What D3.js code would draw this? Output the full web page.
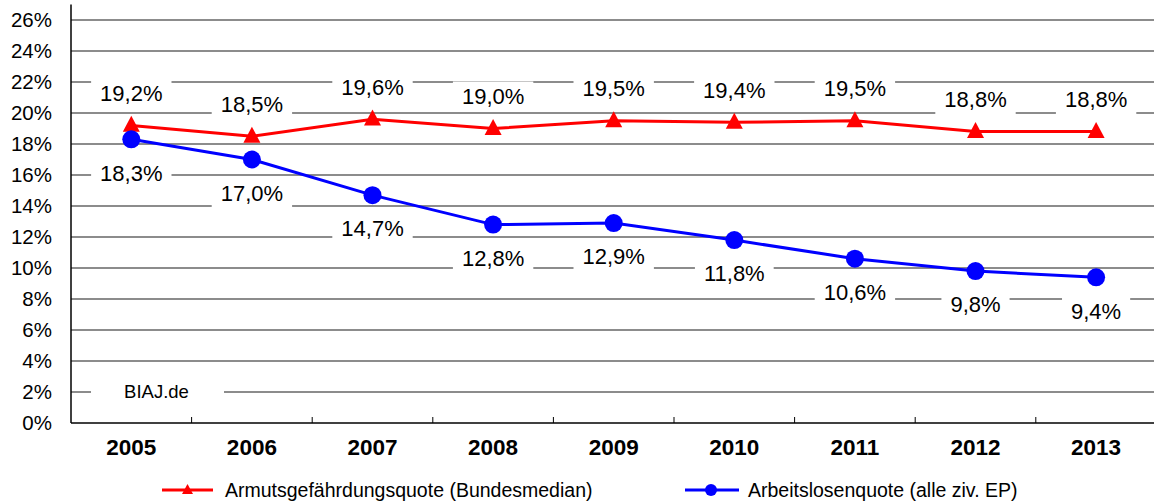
<!DOCTYPE html>
<html>
<head>
<meta charset="utf-8">
<script src="https://cdn.jsdelivr.net/npm/d3@7"></script>
<style>
  html, body { margin: 0; padding: 0; background: #fff; }
  svg { display: block; font-family: "Liberation Sans", Arial, sans-serif; }
</style>
</head>
<body>
<svg id="chart" width="1154" height="503"></svg>
<script>
// Jahre (Kategorien)
const years = ["2005", "2006", "2007", "2008", "2009", "2010", "2011", "2012", "2013"];
// Armutsgefährdungsquote (Bundesmedian), in %
const armutsquote = [19.2, 18.5, 19.6, 19.0, 19.5, 19.4, 19.5, 18.8, 18.8];
// Arbeitslosenquote (alle ziv. EP), in %
const arbeitslosenquote = [18.3, 17.0, 14.7, 12.8, 12.9, 11.8, 10.6, 9.8, 9.4];
// Skalenwerte der y-Achse, in %
const yTicks = [0, 2, 4, 6, 8, 10, 12, 14, 16, 18, 20, 22, 24, 26];
// Legendentexte
const seriesNames = ["Armutsgefährdungsquote (Bundesmedian)", "Arbeitslosenquote (alle ziv. EP)"];
const sourceNote = "BIAJ.de";

const svg = d3.select("#chart");
const plotLeft = 71, plotRight = 1156.4, plotBottom = 423, plotTop = 20;

const x = d3.scaleBand().domain(years).range([plotLeft, plotRight]).padding(0);
const y = d3.scaleLinear().domain([0, 26]).range([plotBottom, plotTop]);
const cx = d => x(d) + x.bandwidth() / 2;
const fmt = v => d3.format(".1f")(v).replace(".", ",") + "%";

const red = "#ff0000", blue = "#0000ff";

// Gitternetzlinien
svg.append("g").selectAll("line").data(yTicks.filter(t => t > 0)).join("line")
  .attr("x1", plotLeft).attr("x2", 1154)
  .attr("y1", d => y(d)).attr("y2", d => y(d))
  .attr("stroke", "#666").attr("stroke-width", 1.3);

// y-Achse mit Beschriftung
const yAxis = d3.axisLeft(y).tickValues(yTicks).tickSize(0).tickPadding(19)
  .tickFormat(d => d + "%");
const gy = svg.append("g").attr("transform", `translate(${plotLeft},0)`).call(yAxis);
gy.select(".domain").remove();
gy.selectAll("text").attr("font-size", 20.5).attr("fill", "#000")
  .attr("font-family", "Liberation Sans, Arial, sans-serif");
svg.append("line").attr("x1", plotLeft).attr("x2", plotLeft)
  .attr("y1", y(27)).attr("y2", plotBottom).attr("stroke", "#000").attr("stroke-width", 1.5);

// x-Achse mit Teilstrichen zwischen den Kategorien
const xAxis = d3.axisBottom(x).tickSize(0).tickPadding(15);
const gx = svg.append("g").attr("transform", `translate(0,${plotBottom})`).call(xAxis);
gx.select(".domain").remove();
gx.selectAll("text").attr("font-size", 22.5).attr("font-weight", "bold").attr("fill", "#000")
  .attr("font-family", "Liberation Sans, Arial, sans-serif")
  .attr("dy", "0.35em").attr("y", 24.5);
svg.append("line").attr("x1", plotLeft).attr("x2", 1154)
  .attr("y1", plotBottom).attr("y2", plotBottom).attr("stroke", "#000").attr("stroke-width", 1.5);
svg.append("g").selectAll("line").data(years.slice(1)).join("line")
  .attr("x1", d => x(d)).attr("x2", d => x(d))
  .attr("y1", plotBottom).attr("y2", plotBottom - 6)
  .attr("stroke", "#000").attr("stroke-width", 1);

// Quellenhinweis
const note = svg.append("g");
note.append("rect").attr("x", 91).attr("y", y(2) - 14).attr("width", 133).attr("height", 28).attr("fill", "#fff");
note.append("text").attr("x", 156.5).attr("y", y(2)).attr("dy", "0.35em")
  .attr("text-anchor", "middle").attr("font-size", 18.5).text(sourceNote);

// Linien und Markierungen
const line = d3.line().x((d, i) => cx(years[i])).y(d => y(d));
svg.append("path").datum(armutsquote).attr("d", line)
  .attr("fill", "none").attr("stroke", red).attr("stroke-width", 3);
const triangle = (w, h) => `M0,${-h * 0.6}L${w / 2},${h * 0.4}L${-w / 2},${h * 0.4}Z`;
svg.append("g").selectAll("path").data(armutsquote).join("path")
  .attr("transform", (d, i) => `translate(${cx(years[i])},${y(d)})`)
  .attr("d", triangle(17, 16)).attr("fill", red);

svg.append("path").datum(arbeitslosenquote).attr("d", line)
  .attr("fill", "none").attr("stroke", blue).attr("stroke-width", 3);
svg.append("g").selectAll("circle").data(arbeitslosenquote).join("circle")
  .attr("cx", (d, i) => cx(years[i])).attr("cy", d => y(d)).attr("r", 9)
  .attr("fill", blue);

// Datenbeschriftungen mit weißem Hintergrund
function labels(values, offset) {
  const g = svg.append("g");
  values.forEach((v, i) => {
    const lg = g.append("g").attr("transform", `translate(${cx(years[i])},${y(v) + offset})`);
    const t = lg.append("text").attr("text-anchor", "middle").attr("dy", "0.35em")
      .attr("font-size", 22).attr("fill", "#000").text(fmt(v));
    const w = t.node().getComputedTextLength();
    lg.insert("rect", "text").attr("x", -w / 2 - 9).attr("y", -15)
      .attr("width", w + 18).attr("height", 30).attr("fill", "#fff");
  });
}
labels(armutsquote, -32);
labels(arbeitslosenquote, 33.5);

// Legende
const legY = 490;
const leg1 = svg.append("g");
leg1.append("line").attr("x1", 162).attr("x2", 213).attr("y1", legY).attr("y2", legY)
  .attr("stroke", red).attr("stroke-width", 3);
leg1.append("path").attr("transform", `translate(187.5,${legY})`).attr("d", triangle(11, 10)).attr("fill", red);
leg1.append("text").attr("x", 225).attr("y", legY).attr("dy", "0.35em")
  .attr("font-size", 19.5).text(seriesNames[0]);

const leg2 = svg.append("g");
leg2.append("line").attr("x1", 685).attr("x2", 739).attr("y1", legY).attr("y2", legY)
  .attr("stroke", blue).attr("stroke-width", 3);
leg2.append("circle").attr("cx", 711).attr("cy", legY).attr("r", 6).attr("fill", blue);
leg2.append("text").attr("x", 748).attr("y", legY).attr("dy", "0.35em")
  .attr("font-size", 19.5).text(seriesNames[1]);
</script>
</body>
</html>
